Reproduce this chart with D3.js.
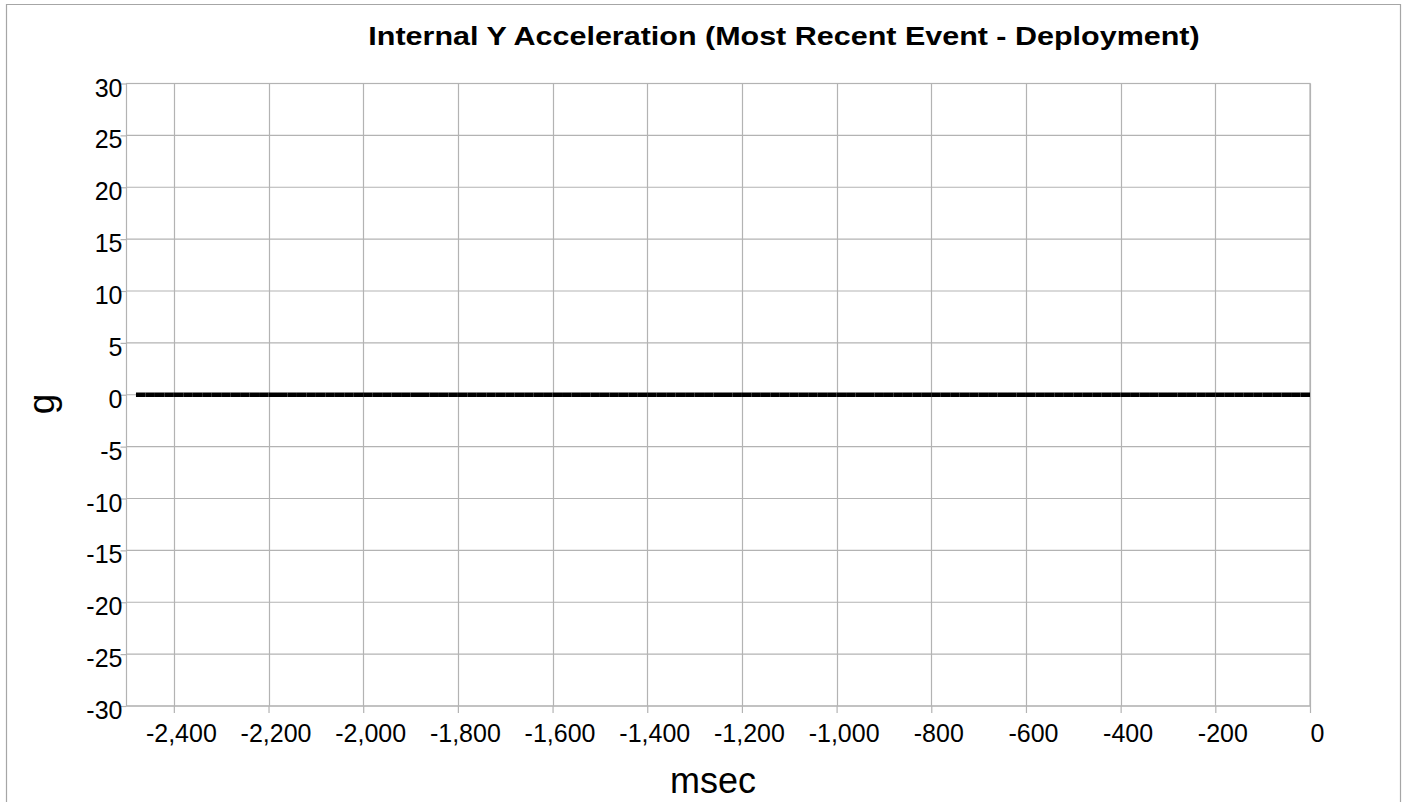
<!DOCTYPE html>
<html>
<head>
<meta charset="utf-8">
<script src="https://cdn.jsdelivr.net/npm/d3@7"></script>
<style>
  html, body { margin: 0; padding: 0; background: #fff; }
  svg { display: block; font-family: "Liberation Sans", Arial, sans-serif; }
</style>
</head>
<body>
<svg id="chart" width="1402" height="802"></svg>
<script>
// Sample times (msec) and internal Y acceleration (g) for the deployment event
const timesMs = [
  -2480, -2460, -2440, -2420, -2400, -2380, -2360, -2340, -2320, -2300,
  -2280, -2260, -2240, -2220, -2200, -2180, -2160, -2140, -2120, -2100,
  -2080, -2060, -2040, -2020, -2000, -1980, -1960, -1940, -1920, -1900,
  -1880, -1860, -1840, -1820, -1800, -1780, -1760, -1740, -1720, -1700,
  -1680, -1660, -1640, -1620, -1600, -1580, -1560, -1540, -1520, -1500,
  -1480, -1460, -1440, -1420, -1400, -1380, -1360, -1340, -1320, -1300,
  -1280, -1260, -1240, -1220, -1200, -1180, -1160, -1140, -1120, -1100,
  -1080, -1060, -1040, -1020, -1000, -980, -960, -940, -920, -900,
  -880, -860, -840, -820, -800, -780, -760, -740, -720, -700,
  -680, -660, -640, -620, -600, -580, -560, -540, -520, -500,
  -480, -460, -440, -420, -400, -380, -360, -340, -320, -300,
  -280, -260, -240, -220, -200, -180, -160, -140, -120, -100,
  -80, -60, -40, -20, 0
];
const accelG = [
  0, 0, 0, 0, 0, 0, 0, 0, 0, 0,
  0, 0, 0, 0, 0, 0, 0, 0, 0, 0,
  0, 0, 0, 0, 0, 0, 0, 0, 0, 0,
  0, 0, 0, 0, 0, 0, 0, 0, 0, 0,
  0, 0, 0, 0, 0, 0, 0, 0, 0, 0,
  0, 0, 0, 0, 0, 0, 0, 0, 0, 0,
  0, 0, 0, 0, 0, 0, 0, 0, 0, 0,
  0, 0, 0, 0, 0, 0, 0, 0, 0, 0,
  0, 0, 0, 0, 0, 0, 0, 0, 0, 0,
  0, 0, 0, 0, 0, 0, 0, 0, 0, 0,
  0, 0, 0, 0, 0, 0, 0, 0, 0, 0,
  0, 0, 0, 0, 0, 0, 0, 0, 0, 0,
  0, 0, 0, 0, 0
];

// Axis ticks and their printed labels
const xTickValues = [-2400, -2200, -2000, -1800, -1600, -1400, -1200, -1000, -800, -600, -400, -200, 0];
const xTickLabels = ["-2,400", "-2,200", "-2,000", "-1,800", "-1,600", "-1,400", "-1,200", "-1,000", "-800", "-600", "-400", "-200", "0"];
const yTickValues = [-30, -25, -20, -15, -10, -5, 0, 5, 10, 15, 20, 25, 30];
const yTickLabels = ["-30", "-25", "-20", "-15", "-10", "-5", "0", "5", "10", "15", "20", "25", "30"];

const xDomain = [-2500, 0];
const yDomain = [-30, 30];

const titleText = "Internal Y Acceleration (Most Recent Event - Deployment)";
const xTitle = "msec";
const yTitle = "g";

const svg = d3.select("#chart");
const W = 1402, H = 802;
const plot = { left: 126.5, right: 1310, top: 83.5, bottom: 706 };
const gridColor = "#b3b3b3";
const labelFont = "Liberation Sans, Arial, sans-serif";

const x = d3.scaleLinear().domain(xDomain).range([plot.left, plot.right]);
const y = d3.scaleLinear().domain(yDomain).range([plot.bottom, plot.top]);

// Outer frame of the chart panel (open at the bottom)
svg.append("path")
  .attr("d", `M6.5,${H} V4.5 H1400.5 V${H}`)
  .attr("fill", "none")
  .attr("stroke", "#a6a6a6")
  .attr("stroke-width", 1.2);

// Gridlines
const grid = svg.append("g").attr("class", "grid");
grid.selectAll("line.vx").data(xTickValues).join("line")
  .attr("x1", d => Math.round(x(d)) + 0.5).attr("x2", d => Math.round(x(d)) + 0.5)
  .attr("y1", plot.top).attr("y2", plot.bottom)
  .attr("stroke", gridColor).attr("stroke-width", 1.2);
grid.selectAll("line.hy").data(yTickValues).join("line")
  .attr("x1", plot.left).attr("x2", plot.right)
  .attr("y1", d => y(d)).attr("y2", d => y(d))
  .attr("stroke", gridColor).attr("stroke-width", 1.2);

// Plot frame
svg.append("rect")
  .attr("x", plot.left).attr("y", plot.top)
  .attr("width", plot.right - plot.left).attr("height", plot.bottom - plot.top)
  .attr("fill", "none").attr("stroke", gridColor).attr("stroke-width", 1.2);

// X axis
const xAxis = d3.axisBottom(x)
  .tickValues(xTickValues)
  .tickFormat((d, i) => xTickLabels[i])
  .tickSize(7)
  .tickPadding(12);
const gx = svg.append("g").attr("transform", `translate(0,${plot.bottom})`).call(xAxis);
gx.select(".domain").remove();
gx.selectAll(".tick line").attr("stroke", gridColor).attr("stroke-width", 1.2);
gx.selectAll(".tick text")
  .attr("fill", "#000")
  .attr("font-size", 25)
  .attr("font-family", labelFont)
  .attr("dy", "0.68em")
  .attr("dx", 7);

// Y axis
const yAxis = d3.axisLeft(y)
  .tickValues(yTickValues)
  .tickFormat((d, i) => yTickLabels[i])
  .tickSize(6)
  .tickPadding(-2);
const gy = svg.append("g").attr("transform", `translate(${plot.left},0)`).call(yAxis);
gy.select(".domain").remove();
gy.selectAll(".tick line").attr("stroke", gridColor).attr("stroke-width", 1.2);
gy.selectAll(".tick text")
  .attr("fill", "#000")
  .attr("font-size", 25)
  .attr("font-family", labelFont)
  .attr("dy", "0.5em");

// Series: consecutive samples joined segment by segment
const pts = timesMs.map((t, i) => [t, accelG[i]]);
const segs = d3.pairs(pts);
svg.append("g").selectAll("line").data(segs).join("line")
  .attr("x1", d => x(d[0][0])).attr("y1", d => y(d[0][1]))
  .attr("x2", d => x(d[1][0])).attr("y2", d => y(d[1][1]))
  .attr("stroke", "#000")
  .attr("stroke-width", 4.5)
  .attr("stroke-linecap", "butt");

// Titles
svg.append("text")
  .attr("transform", "translate(784,45) scale(1.22,1)")
  .attr("text-anchor", "middle")
  .attr("font-size", 25)
  .attr("font-weight", "bold")
  .attr("fill", "#000")
  .text(titleText);

svg.append("text")
  .attr("x", 713).attr("y", 793)
  .attr("text-anchor", "middle")
  .attr("font-size", 36)
  .attr("fill", "#000")
  .text(xTitle);

svg.append("text")
  .attr("transform", "translate(54,404) rotate(-90)")
  .attr("text-anchor", "middle")
  .attr("font-size", 37)
  .attr("fill", "#000")
  .text(yTitle);
</script>
</body>
</html>
